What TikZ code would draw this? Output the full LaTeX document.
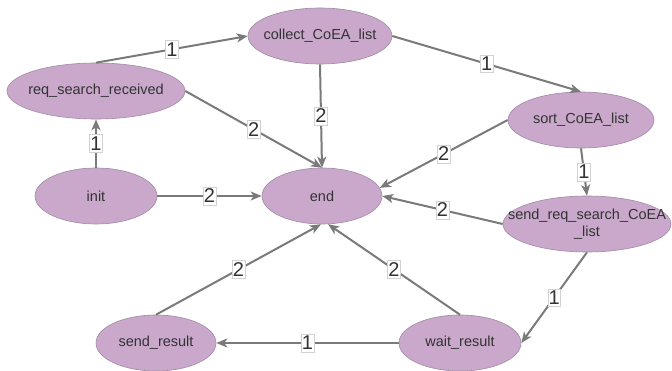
\documentclass[tikz,border=0pt]{standalone}
\usepackage{fontspec}
\setmainfont{Liberation Sans}
\usetikzlibrary{shapes.geometric,arrows.meta}
\definecolor{statefill}{HTML}{C9A8CB}
\definecolor{stateline}{HTML}{A08AA2}
\definecolor{edgecol}{HTML}{7A7A7A}
\definecolor{txt}{HTML}{333333}
\tikzset{
  state/.style={ellipse, draw=stateline, line width=0.6pt, fill=statefill,
    inner xsep=-30pt, inner ysep=0pt,
    minimum height=56pt, text=txt, font=\fontsize{14.5}{17}\selectfont, align=center},
  trans/.style={draw=edgecol, line width=2pt, -{Stealth[length=11pt,width=9pt,inset=3pt]}},
  lbl/.style={fill=white, draw=gray!35, line width=0.5pt, inner xsep=0.8pt, inner ysep=2pt,
    text=txt, font=\fontsize{20}{20}\selectfont, pos=0.5}
}
\begin{document}
\begin{tikzpicture}[x=1pt,y=-1pt]
\useasboundingbox (0,0) rectangle (672,371);
\node[state, minimum width=144pt] (collect) at (320,36) {collect\_CoEA\_list};
\node[state, minimum width=178pt] (req) at (96,91) {req\_search\_received};
\node[state, minimum width=122pt] (init) at (96,196) {init};
\node[state, minimum width=120pt] (end) at (322,196) {end};
\node[state, minimum width=146pt] (sort) at (581,120) {sort\_CoEA\_list};
\node[state, minimum width=168pt] (sendreq) at (587,224) {send\_req\_search\_CoEA\\\_list};
\node[state, minimum width=122pt] (wait) at (460,343) {wait\_result};
\node[state, minimum width=120pt] (sendres) at (156,343) {send\_result};

\draw[trans] (init.north) -- node[lbl]{1} (req.south);
\draw[trans] (req.north) -- node[lbl]{1} (collect.west);
\draw[trans] (req.east) -- node[lbl]{2} (end.north);
\draw[trans] (collect.south) -- node[lbl]{2} (end.north);
\draw[trans] (collect.east) -- node[lbl]{1} (sort.north);
\draw[trans] (sort.west) -- node[lbl]{2} (end.8);
\draw[trans] (sort.south) -- node[lbl]{1} (sendreq.north);
\draw[trans] (init.east) -- node[lbl]{2} (end.west);
\draw[trans] (sendreq.west) -- node[lbl]{2} (end.east);
\draw[trans] (sendreq.south) -- node[lbl]{1} (wait.east);
\draw[trans] (wait.north) -- node[lbl]{2} (end.-78);
\draw[trans] (sendres.north) -- node[lbl]{2} (end.-92);
\draw[trans] (wait.west) -- node[lbl]{1} (sendres.east);
\end{tikzpicture}
\end{document}
